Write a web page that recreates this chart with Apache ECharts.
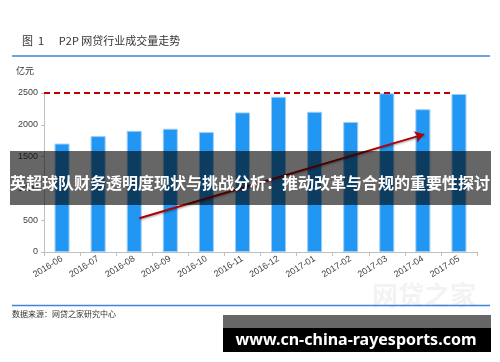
<!DOCTYPE html>
<html>
<head>
<meta charset="utf-8">
<script src="https://cdn.jsdelivr.net/npm/echarts@6/dist/echarts.min.js"></script>
<style>html,body{margin:0;padding:0;background:#fff;}#c{width:500px;height:362px;}</style>
</head>
<body>
<div id="c"></div>
<script>
var categories = ['2016-06','2016-07','2016-08','2016-09','2016-10','2016-11','2016-12','2017-01','2017-02','2017-03','2017-04','2017-05'];
var volumes = [1705, 1822, 1905, 1938, 1885, 2195, 2440, 2205, 2045, 2495, 2245, 2485];
var yTicks = [0, 500, 1000, 1500, 2000, 2500];
var thresholdLine = [[0, 2500], [11.3, 2500]];
var trendArrow = [[2.64, 530], [10.53, 1850]];

var CJK = '"Noto Sans CJK SC","Noto Sans",sans-serif';
var chart = echarts.init(document.getElementById('c'));
chart.setOption({
  animation: false,
  backgroundColor: '#fff',
  textStyle: { fontFamily: CJK },
  grid: { left: 44, right: 23, top: 93, bottom: 110, containLabel: false },
  xAxis: [{
    type: 'category',
    data: categories,
    boundaryGap: true,
    axisLine: { lineStyle: { color: '#bfbfbf', width: 1 } },
    axisTick: { show: true, length: 4, lineStyle: { color: '#bfbfbf' } },
    axisLabel: { rotate: 32, fontSize: 9, color: '#404040', margin: 6, interval: 0, fontFamily: 'Liberation Sans, sans-serif' }
  }, {
    type: 'value', min: 0, max: 12, show: false
  }],
  yAxis: [{
    type: 'value',
    min: yTicks[0], max: yTicks[yTicks.length - 1], interval: 500,
    axisLine: { show: true, lineStyle: { color: '#bfbfbf', width: 1 } },
    axisTick: { show: true, length: 3, lineStyle: { color: '#bfbfbf' } },
    splitLine: { show: false },
    axisLabel: { fontSize: 9, color: '#404040', margin: 6, fontFamily: 'Liberation Sans, sans-serif', formatter: function (v) { return String(v); } }
  }],
  series: [{
    type: 'bar',
    data: volumes,
    barWidth: 15,
    itemStyle: { color: '#2196f3', borderColor: '#9ccdf6', borderWidth: 1 }
  }, {
    type: 'line',
    xAxisIndex: 1,
    data: thresholdLine,
    symbol: 'none',
    lineStyle: { color: '#c00000', width: 2, type: [6, 4] },
    z: 5
  }, {
    type: 'lines',
    coordinateSystem: 'cartesian2d',
    xAxisIndex: 1,
    yAxisIndex: 0,
    symbol: ['none', 'arrow'],
    symbolSize: [0, 9],
    data: [{ coords: trendArrow }],
    lineStyle: { color: '#b00000', width: 2, opacity: 1, curveness: 0, shadowColor: 'rgba(0,0,0,0.35)', shadowBlur: 2, shadowOffsetX: 1, shadowOffsetY: 1 },
    z: 6
  }],
  graphic: [
    { type: 'text', left: 22, top: 35, z: 100, style: { text: '图  1      P2P 网贷行业成交量走势', fontSize: 11, fill: '#333', fontFamily: CJK } },
    { type: 'line', z: 100, shape: { x1: 12, y1: 56, x2: 490, y2: 56 }, style: { stroke: '#3d85d8', lineWidth: 1.5 } },
    { type: 'text', left: 16, top: 66, z: 100, style: { text: '亿元', fontSize: 9, fill: '#333', fontFamily: CJK } },
    { type: 'text', left: 372, top: 282, z: 1, style: { text: '网贷之家', fontSize: 26, fontWeight: 'bold', fill: '#f3f3f3', fontFamily: CJK } },
    { type: 'line', z: 100, shape: { x1: 12, y1: 305.5, x2: 490, y2: 305.5 }, style: { stroke: '#3d85d8', lineWidth: 1.5 } },
    { type: 'text', left: 12, top: 310, z: 100, style: { text: '数据来源：网贷之家研究中心', fontSize: 8, fill: '#333', fontFamily: CJK } },
    { type: 'rect', z: 100, shape: { x: 10, y: 151, width: 481, height: 54 }, style: { fill: 'rgba(0,0,0,0.6)' } },
    { type: 'text', z: 101, x: 250, y: 183, style: { text: '英超球队财务透明度现状与挑战分析：推动改革与合规的重要性探讨', fontSize: 16, fontWeight: 'bold', fill: '#fff', align: 'center', verticalAlign: 'middle', fontFamily: CJK } },
    { type: 'rect', z: 100, shape: { x: 223, y: 315, width: 268, height: 13 }, style: { fill: 'rgba(0,0,0,0.6)' } },
    { type: 'rect', z: 100, shape: { x: 223, y: 328, width: 268, height: 24 }, style: { fill: '#000' } },
    { type: 'text', z: 101, x: 356, y: 340, style: { text: 'www.cn-china-rayesports.com', fontSize: 16, fontWeight: 'bold', fill: '#fff', align: 'center', verticalAlign: 'middle', fontFamily: '"Noto Sans","Open Sans",sans-serif' } }
  ]
});
</script>
</body>
</html>
